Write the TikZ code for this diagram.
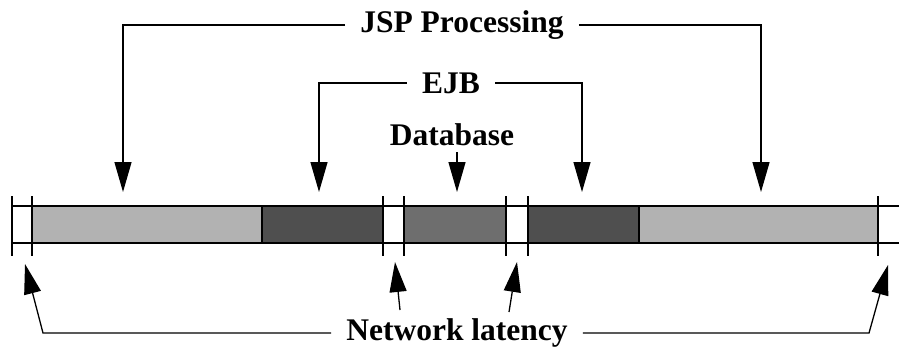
\documentclass[tikz,border=0pt]{standalone}
\usepackage{fontspec}
\setmainfont{Liberation Serif}
\usetikzlibrary{arrows.meta,positioning,calc}
\definecolor{jspfill}{gray}{0.70}
\definecolor{ejbfill}{gray}{0.31}
\definecolor{dbfill}{gray}{0.43}

\begin{document}
\begin{tikzpicture}[x=1pt, y=-1pt,
    tag/.style={font=\fontsize{31.5}{36}\selectfont\bfseries, inner xsep=15pt, inner ysep=0pt},
    pointer/.style={-{Triangle[length=30pt, width=17pt]}, line width=1.3pt},
    part/.style={anchor=north west, minimum height=37pt, inner sep=0pt, outer sep=0pt},
    rail/.style={line width=1.6pt},
    edge/.style={line width=2.8pt},
    tick/.style={line width=2.4pt}
]
    \useasboundingbox (0,0) rectangle (899,349);

    % time bar
    \node[part, minimum width=20pt] (net1) at (12,206) {};
    \node[part, fill=jspfill, minimum width=230pt] (jspA) at (32,206) {};
    \node[part, fill=ejbfill, minimum width=121pt, right=0pt of jspA] (ejbA) {};
    \node[part, minimum width=21pt] (net2) at (383,206) {};
    \node[part, fill=dbfill, minimum width=102pt] (db) at (404,206) {};
    \node[part, minimum width=22pt] (net3) at (506,206) {};
    \node[part, fill=ejbfill, minimum width=111pt] (ejbB) at (528,206) {};
    \node[part, fill=jspfill, minimum width=239pt, right=0pt of ejbB] (jspB) {};
    \node[part, minimum width=21pt] (net4) at (878,206) {};

    \draw[rail] (net1.north west) -- (net4.north east);
    \draw[rail] (net1.south west) -- (net4.south east);
    \draw[edge] (jspA.north west) -- (ejbA.north east);
    \draw[edge] (jspA.south west) -- (ejbA.south east);
    \draw[edge] (db.north west) -- (db.north east);
    \draw[edge] (db.south west) -- (db.south east);
    \draw[edge] (ejbB.north west) -- (jspB.north east);
    \draw[edge] (ejbB.south west) -- (jspB.south east);
    \draw[rail] (jspA.north east) -- (jspA.south east);
    \draw[rail] (jspB.north west) -- (jspB.south west);
    \foreach \x in {12,32,383,404,506,528,878}
        \draw[tick] (\x,196) -- (\x,256);

    % labels
    \node[tag] (jsp) at (462,25) {JSP Processing};
    \node[tag] (ejb) at (451,83) {EJB};
    \node[tag] (dbase) at (452,135) {Database};
    \node[tag] (net) at (457,333) {Network latency};

    % arrow ends
    \coordinate (jspL) at (123,192);
    \coordinate (jspR) at (761,192);
    \coordinate (ejbL) at (319,192);
    \coordinate (ejbR) at (582,192);
    \coordinate (dbT) at (457,192);
    \coordinate (cornerL) at (43,333);
    \coordinate (cornerR) at (869,333);
    \coordinate (netL) at (25,264);
    \coordinate (netR) at (888,265);
    \coordinate (tailA) at (400,310);
    \coordinate (tailB) at (509,312);
    \coordinate (netA) at (395,262);
    \coordinate (netB) at (517,262);

    \draw[pointer] (jsp.west) -| (jspL);
    \draw[pointer] (jsp.east) -| (jspR);
    \draw[pointer] (ejb.west) -| (ejbL);
    \draw[pointer] (ejb.east) -| (ejbR);
    \draw[pointer, shorten <=6pt] (dbT |- dbase.south) -- (dbT);

    \draw[pointer] (net.west) -- (cornerL) -- (netL);
    \draw[pointer] (net.east) -- (cornerR) -- (netR);
    \draw[pointer] (tailA) -- (netA);
    \draw[pointer] (tailB) -- (netB);
\end{tikzpicture}
\end{document}
